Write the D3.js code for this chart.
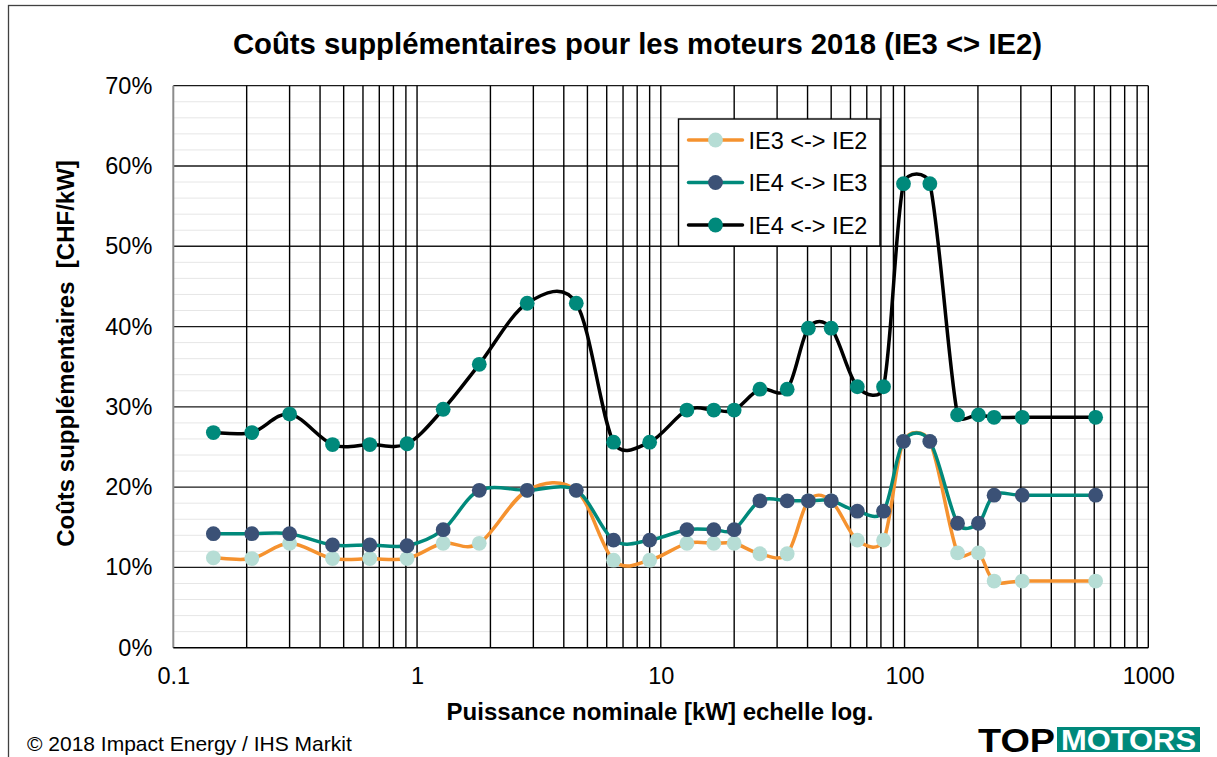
<!DOCTYPE html>
<html>
<head>
<meta charset="utf-8">
<script src="https://cdn.jsdelivr.net/npm/d3@7"></script>
<style>
  html, body { margin: 0; padding: 0; background: #fff; }
  svg { display: block; font-family: "Liberation Sans", Arial, sans-serif; }
</style>
</head>
<body>
<div id="chart"></div>
<script>
// DATA
const power = [0.146, 0.21, 0.3, 0.45, 0.64, 0.91, 1.28, 1.8, 2.83, 4.5, 6.4, 9.0, 12.8, 16.5, 20, 25.5, 33, 40.3, 50, 64, 82, 99, 127, 165, 201, 233, 304, 608];
const ie3ie2 = [11.2, 11.1, 13.0, 11.1, 11.1, 11.1, 13.0, 13.0, 19.6, 19.6, 10.9, 10.9, 13.0, 13.0, 13.0, 11.7, 11.7, 18.3, 18.3, 13.4, 13.4, 25.7, 25.7, 11.8, 11.8, 8.3, 8.3, 8.3];
const ie4ie3 = [14.2, 14.2, 14.2, 12.8, 12.8, 12.7, 14.7, 19.6, 19.6, 19.6, 13.4, 13.4, 14.7, 14.7, 14.7, 18.3, 18.3, 18.3, 18.3, 17.0, 17.0, 25.7, 25.7, 15.5, 15.5, 19.0, 19.0, 19.0];
const ie4ie2 = [26.8, 26.8, 29.1, 25.3, 25.3, 25.4, 29.7, 35.3, 42.9, 42.9, 25.6, 25.6, 29.6, 29.6, 29.6, 32.2, 32.2, 39.8, 39.8, 32.5, 32.5, 57.8, 57.8, 29.0, 29.0, 28.7, 28.7, 28.7];
const seriesNames = ["IE3 <-> IE2", "IE4 <-> IE3", "IE4 <-> IE2"];
const xTicks = [0.1, 1, 10, 100, 1000];
const yTicks = [0, 10, 20, 30, 40, 50, 60, 70];

const width = 1217, height = 757;
const plot = { left: 173.3, right: 1148.3, top: 85.7, bottom: 647.7 };

const series = [
  { name: seriesNames[0], values: ie3ie2, line: "#f5922f", marker: "#b6ddd5" },
  { name: seriesNames[1], values: ie4ie3, line: "#00897b", marker: "#3b5176" },
  { name: seriesNames[2], values: ie4ie2, line: "#000000", marker: "#00897b" },
];

// spreadsheet-like smoothed line: bezier with 1/6 tangents,
// limited to half the segment length
function smoothCurve(context) {
  let pts = [];
  const dist = (a, b) => Math.hypot(b[0] - a[0], b[1] - a[1]);
  return {
    areaStart() {},
    areaEnd() {},
    lineStart() { pts = []; },
    point(px, py) { pts.push([+px, +py]); },
    lineEnd() {
      const n = pts.length;
      if (!n) return;
      context.moveTo(pts[0][0], pts[0][1]);
      for (let i = 0; i < n - 1; i++) {
        const p0 = pts[Math.max(i - 1, 0)],
          p1 = pts[i],
          p2 = pts[i + 1],
          p3 = pts[Math.min(i + 2, n - 1)];
        const d12 = dist(p1, p2), d02 = dist(p0, p2), d13 = dist(p1, p3);
        let f1 = 1 / 6, f2 = 1 / 6;
        if (d02 / 6 >= d12 / 2) f1 = d02 ? d12 / d02 / 2 : 0;
        if (d13 / 6 >= d12 / 2) f2 = d13 ? d12 / d13 / 2 : 0;
        context.bezierCurveTo(
          p1[0] + (p2[0] - p0[0]) * f1, p1[1] + (p2[1] - p0[1]) * f1,
          p2[0] - (p3[0] - p1[0]) * f2, p2[1] - (p3[1] - p1[1]) * f2,
          p2[0], p2[1]
        );
      }
    },
  };
}

const svg = d3.select("#chart").append("svg")
  .attr("width", width)
  .attr("height", height);

svg.append("rect").attr("width", width).attr("height", height).attr("fill", "#fff");

// outer chart frame (runs past the right / bottom edge)
svg.append("rect")
  .attr("x", 8.5).attr("y", 5.5)
  .attr("width", 1220).attr("height", 780)
  .attr("fill", "none").attr("stroke", "#404040").attr("stroke-width", 1.3);

const x = d3.scaleLog().domain([0.1, 1000]).range([plot.left, plot.right]);
const y = d3.scaleLinear().domain([0, 70]).range([plot.bottom, plot.top]);

// GRID
const grid = svg.append("g").attr("class", "grid");

grid.selectAll(".minorY")
  .data(d3.range(0, 71, 2).filter((d) => d % 10 !== 0))
  .join("line")
  .attr("x1", plot.left).attr("x2", plot.right)
  .attr("y1", (d) => y(d)).attr("y2", (d) => y(d))
  .attr("stroke", "#e6e6e6").attr("stroke-width", 1);

grid.selectAll(".majorY")
  .data(yTicks.filter((d) => d > 0))
  .join("line")
  .attr("x1", plot.left).attr("x2", plot.right)
  .attr("y1", (d) => y(d)).attr("y2", (d) => y(d))
  .attr("stroke", "#1a1a1a").attr("stroke-width", 1.3);

grid.selectAll(".vert")
  .data(x.ticks().filter((d) => d > 0.1))
  .join("line")
  .attr("x1", (d) => x(d)).attr("x2", (d) => x(d))
  .attr("y1", plot.top).attr("y2", plot.bottom)
  .attr("stroke", "#000").attr("stroke-width", 1.4);

// axis lines
svg.append("line")
  .attr("x1", plot.left).attr("x2", plot.left)
  .attr("y1", plot.top).attr("y2", plot.bottom)
  .attr("stroke", "#8c8c8c").attr("stroke-width", 2);
svg.append("line")
  .attr("x1", plot.left).attr("x2", plot.right)
  .attr("y1", plot.bottom).attr("y2", plot.bottom)
  .attr("stroke", "#000").attr("stroke-width", 1.6);

// AXES
const xAxis = svg.append("g")
  .attr("transform", `translate(0,${plot.bottom})`)
  .call(d3.axisBottom(x).tickValues(xTicks).tickFormat(d3.format("~g")).tickSize(0).tickPadding(20));
const yAxis = svg.append("g")
  .attr("transform", `translate(${plot.left},0)`)
  .call(d3.axisLeft(y).tickValues(yTicks).tickFormat((d) => d + "%").tickSize(0).tickPadding(21));

[xAxis, yAxis].forEach((g) => {
  g.select(".domain").remove();
  g.attr("font-family", null).attr("font-size", 23.5);
  g.selectAll("text").attr("fill", "#000");
});

// SERIES
const line = d3.line()
  .x((d) => x(d[0]))
  .y((d) => y(d[1]))
  .curve(smoothCurve);

const seriesLayer = svg.append("g").attr("class", "series");
series.forEach((s) => {
  const pts = power.map((p, i) => [p, s.values[i]]);
  const g = seriesLayer.append("g");
  g.append("path")
    .attr("d", line(pts))
    .attr("fill", "none")
    .attr("stroke", s.line)
    .attr("stroke-width", 3.5)
    .attr("stroke-linejoin", "round");
  g.selectAll("circle")
    .data(pts)
    .join("circle")
    .attr("cx", (d) => x(d[0]))
    .attr("cy", (d) => y(d[1]))
    .attr("r", 7.4)
    .attr("fill", s.marker);
});

// LEGEND
const legend = svg.append("g").attr("transform", "translate(678.5,119)");
legend.append("rect")
  .attr("width", 201.5).attr("height", 127)
  .attr("fill", "#fff").attr("stroke", "#000").attr("stroke-width", 1.4);
const items = legend.selectAll(".item")
  .data(series)
  .join("g")
  .attr("transform", (d, i) => `translate(0,${21 + i * 42.5})`);
items.append("line")
  .attr("x1", 10).attr("x2", 64)
  .attr("stroke", (d) => d.line).attr("stroke-width", 3.5).attr("stroke-linecap", "round");
items.append("circle")
  .attr("cx", 37).attr("r", 7.4).attr("fill", (d) => d.marker);
items.append("text")
  .attr("x", 70).attr("y", 8.5)
  .attr("font-size", 23.5)
  .text((d) => d.name);

// TEXTS
svg.append("text")
  .attr("x", 637.5).attr("y", 53.5)
  .attr("text-anchor", "middle")
  .attr("font-size", 29.3).attr("font-weight", "bold")
  .text("Coûts supplémentaires pour les moteurs 2018 (IE3 <> IE2)");

svg.append("text")
  .attr("transform", "translate(74,353.5) rotate(-90)")
  .attr("text-anchor", "middle")
  .attr("font-size", 24).attr("font-weight", "bold")
  .style("white-space", "pre")
  .text("Coûts supplémentaires  [CHF/kW]");

svg.append("text")
  .attr("x", 660).attr("y", 720)
  .attr("text-anchor", "middle")
  .attr("font-size", 24).attr("font-weight", "bold")
  .text("Puissance nominale [kW] echelle log.");

svg.append("text")
  .attr("x", 27).attr("y", 751)
  .attr("font-size", 21)
  .text("© 2018 Impact Energy / IHS Markit");

// logo
const logo = svg.append("g");
logo.append("text")
  .attr("x", 978).attr("y", 751.5)
  .attr("font-size", 34).attr("font-weight", "bold")
  .attr("textLength", 77).attr("lengthAdjust", "spacingAndGlyphs")
  .text("TOP");
logo.append("rect")
  .attr("x", 1057).attr("y", 727)
  .attr("width", 143).attr("height", 25)
  .attr("fill", "#00897b");
logo.append("text")
  .attr("x", 1061).attr("y", 750)
  .attr("font-size", 29).attr("font-weight", "bold")
  .attr("fill", "#fff")
  .attr("textLength", 135).attr("lengthAdjust", "spacingAndGlyphs")
  .text("MOTORS");
</script>
</body>
</html>
